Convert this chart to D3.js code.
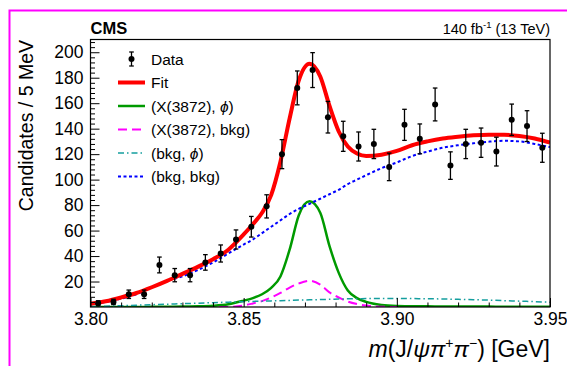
<!DOCTYPE html>
<html><head><meta charset="utf-8">
<script src="https://cdn.jsdelivr.net/npm/d3@7"></script>
<style>
html,body{margin:0;padding:0;background:#fff;}
svg{display:block;font-family:"Liberation Sans",Arial,Helvetica,sans-serif;}
</style></head>
<body><svg id="c" width="567" height="366"></svg>
<script>
// ---------- data ----------
const binCenters = [3.8025,3.8075,3.8125,3.8175,3.8225,3.8275,3.8325,3.8375,3.8425,3.8475,
  3.8525,3.8575,3.8625,3.8675,3.8725,3.8775,3.8825,3.8875,3.8925,3.8975,
  3.9025,3.9075,3.9125,3.9175,3.9225,3.9275,3.9325,3.9375,3.9425,3.9475];
const counts = [3,4,10,10,33,25,25,35,42,53,63,79,120,172,186,149,134,126,128,110,
  143,132,159,111,128,129,122,147,142,125];
const errors = [1.9,2.1,3.3,3.3,6.2,5.2,5.2,6.1,6.7,7.5,8.1,9.1,11.4,13.3,13.7,12.4,11.8,11.4,11.5,10.8,
  12.2,11.7,12.9,10.8,11.5,11.5,11.3,12.3,12.1,11.4];

const massGrid = [3.800,3.805,3.810,3.815,3.820,3.825,3.830,3.835,3.840,3.845,3.850,3.853,3.856,3.859,
  3.862,3.865,3.868,3.8715,3.875,3.878,3.881,3.884,3.887,3.890,3.895,3.900,3.905,3.910,3.915,3.920,
  3.925,3.930,3.935,3.940,3.945,3.950];
const fitTotal = [2.5,4.5,7.5,11,15.5,20.5,26,31.5,37.5,45,57,65,74,88,
  114,148,178,191,181,158,138,126,120.5,118.5,119.5,122.5,127,130,132.3,133.7,
  134.8,135.3,135.2,134.3,132.3,129];
const xPhi = [0.05,0.05,0.05,0.05,0.1,0.15,0.3,0.5,1.0,2.2,5,7,10,15,
  24,45,72,83,74,48,27,13,7,4,1.6,0.8,0.6,0.5,0.4,0.35,
  0.3,0.3,0.25,0.2,0.2,0.2];
const xBkgMass = [3.842,3.845,3.850,3.853,3.856,3.859,3.862,3.865,3.868,3.8715,3.875,3.878,3.881,3.884,3.887,3.890,3.895,3.900];
const xBkg = [0,0.1,1.2,2.8,4.6,7.5,11,15.2,18.5,20.6,17.5,11.5,7.5,4.2,2.3,1.2,0.2,0];
const bkgPhi = [0.2,0.6,1.0,1.4,1.8,2.2,2.6,3.0,3.4,3.8,4.2,4.4,4.6,4.8,
  5.0,5.2,5.4,5.6,5.8,6.0,6.2,6.4,6.5,6.6,6.7,6.7,6.6,6.5,6.3,6.0,
  5.7,5.4,5.0,4.6,4.2,3.8];
const bkgBkg = [2,4,6.5,10,15.5,20.5,24,29,35,42,49,53,58,63,
  68,73,77,81,85,88.5,92,96.5,100,103.5,109,113.5,118.5,122,125,127,
  128.5,129.8,130.5,130,128,125.5];

const xTickLabels = ["3.80","3.85","3.90","3.95"];
const xMajor = [3.80,3.85,3.90,3.95];
const xMinor = [3.81,3.82,3.83,3.84,3.86,3.87,3.88,3.89,3.91,3.92,3.93,3.94];
const yMajor = [20,40,60,80,100,120,140,160,180,200];
const yMinor = [4,8,12,16,24,28,32,36,44,48,52,56,64,68,72,76,84,88,92,96,104,108,112,116,
  124,128,132,136,144,148,152,156,164,168,172,176,184,188,192,196,204,208];

const legendItems = [
  {key:"data", label:["Data"]},
  {key:"fit", label:["Fit"]},
  {key:"sphi", label:["(X(3872), ", ["ϕ","i"], ")"]},
  {key:"sbkg", label:["(X(3872), bkg)"]},
  {key:"bphi", label:["(bkg, ", ["ϕ","i"], ")"]},
  {key:"bbkg", label:["(bkg, bkg)"]}
];
const styles = {
  fit:  {stroke:"#ff0000", width:4,   dash:null},
  sphi: {stroke:"#009a00", width:2.5, dash:null},
  sbkg: {stroke:"#ff00ff", width:2,   dash:"9,5"},
  bphi: {stroke:"#149e9e", width:1.5, dash:"6,3,1.5,3"},
  bbkg: {stroke:"#0000ff", width:2,   dash:"3,2.5"}
};

// ---------- layout ----------
const L = 90.5, R = 550, T = 39.5, B = 307;
const svg = d3.select("#c");
const x = d3.scaleLinear().domain([3.80,3.95]).range([L,R]);
const y = d3.scaleLinear().domain([0,210]).range([B,T]);

// magenta outer frame
svg.append("rect").attr("x",9.5).attr("y",10.5).attr("width",700).attr("height",500)
  .attr("fill","none").attr("stroke","#ff00ff").attr("stroke-width",2);

svg.append("defs").append("clipPath").attr("id","clip")
  .append("rect").attr("x",L).attr("y",T).attr("width",R-L).attr("height",B-T);

const plot = svg.append("g").attr("clip-path","url(#clip)");
function curve(xs, ys, st){
  const line = d3.line().x((d,i)=>x(xs[i])).y(d=>y(d)).curve(d3.curveMonotoneX);
  plot.append("path").datum(ys).attr("d",line).attr("fill","none")
    .attr("stroke",st.stroke).attr("stroke-width",st.width)
    .attr("stroke-dasharray",st.dash);
}
curve(massGrid, xPhi, styles.sphi);
curve(xBkgMass, xBkg, styles.sbkg);
curve(massGrid, bkgPhi, styles.bphi);
curve(massGrid, bkgBkg, styles.bbkg);
curve(massGrid, fitTotal, styles.fit);

// data points
const pts = svg.append("g");
binCenters.forEach((m,i)=>{
  const cx = x(m), v = counts[i], e = errors[i];
  pts.append("line").attr("x1",cx).attr("x2",cx).attr("y1",y(v-e)).attr("y2",y(v+e))
    .attr("stroke","#000").attr("stroke-width",1.3);
  [v-e, v+e].forEach(t=>pts.append("line").attr("x1",cx-2.3).attr("x2",cx+2.3)
    .attr("y1",y(t)).attr("y2",y(t)).attr("stroke","#000").attr("stroke-width",1.3));
  pts.append("circle").attr("cx",cx).attr("cy",y(v)).attr("r",3).attr("fill","#000");
});

// frame
svg.append("rect").attr("x",L).attr("y",T).attr("width",R-L).attr("height",B-T)
  .attr("fill","none").attr("stroke","#000").attr("stroke-width",1.2);

// axes
const fs = 17.5;
const gx = svg.append("g").attr("transform",`translate(0,${B})`)
  .call(d3.axisBottom(x).tickValues(xMajor).tickSize(-9).tickPadding(6)
    .tickFormat((d,i)=>xTickLabels[i]));
const gxm = svg.append("g").attr("transform",`translate(0,${B})`)
  .call(d3.axisBottom(x).tickValues(xMinor).tickSize(-4.5).tickFormat(""));
const gy = svg.append("g").attr("transform",`translate(${L},0)`)
  .call(d3.axisLeft(y).tickValues(yMajor).tickSize(-9).tickPadding(7));
const gym = svg.append("g").attr("transform",`translate(${L},0)`)
  .call(d3.axisLeft(y).tickValues(yMinor).tickSize(-4.5).tickFormat(""));
[gx,gxm,gy,gym].forEach(g=>{
  g.select(".domain").remove();
  g.selectAll(".tick line").attr("stroke","#000").attr("stroke-width",1);
  g.selectAll("text").attr("font-size",fs).attr("fill","#000")
    .attr("font-family","Liberation Sans, Arial, sans-serif");
});

// axis titles
svg.append("text").attr("transform",`translate(33,40) rotate(-90)`)
  .attr("text-anchor","end").attr("font-size",19.5).attr("fill","#000")
  .text("Candidates / 5 MeV");

const xt = svg.append("text").attr("x",R).attr("y",357).attr("text-anchor","end")
  .attr("font-size",23).attr("fill","#000");
xt.append("tspan").attr("font-style","italic").text("m");
xt.append("tspan").text("(J/");
xt.append("tspan").attr("font-style","italic").text("ψπ");
xt.append("tspan").attr("font-size",14).attr("dy",-9).text("+");
xt.append("tspan").attr("font-style","italic").attr("dy",9).text("π");
xt.append("tspan").attr("font-size",14).attr("dy",-9).text("−");
xt.append("tspan").attr("dy",9).text(") [GeV]");

// header
svg.append("text").attr("x",L).attr("y",34).attr("font-size",16.5).attr("font-weight","bold")
  .attr("fill","#000").text("CMS");
const lum = svg.append("text").attr("x",R).attr("y",34).attr("text-anchor","end")
  .attr("font-size",14.5).attr("fill","#000");
lum.append("tspan").text("140 fb");
lum.append("tspan").attr("font-size",9.5).attr("dy",-6).text("-1");
lum.append("tspan").attr("dy",6).text(" (13 TeV)");

// legend
const lg = svg.append("g");
const ly0 = 59, ldy = 23.5, lx0 = 118, lx1 = 145, ltx = 151;
legendItems.forEach((it,i)=>{
  const yy = ly0 + i*ldy;
  if(it.key==="data"){
    const cx = (lx0+lx1)/2;
    lg.append("line").attr("x1",cx).attr("x2",cx).attr("y1",yy-7).attr("y2",yy+7)
      .attr("stroke","#000").attr("stroke-width",1.3);
    [yy-7,yy+7].forEach(t=>lg.append("line").attr("x1",cx-2.3).attr("x2",cx+2.3)
      .attr("y1",t).attr("y2",t).attr("stroke","#000").attr("stroke-width",1.3));
    lg.append("circle").attr("cx",cx).attr("cy",yy).attr("r",3).attr("fill","#000");
  } else {
    const st = styles[it.key];
    lg.append("line").attr("x1",lx0).attr("x2",lx1).attr("y1",yy).attr("y2",yy)
      .attr("stroke",st.stroke).attr("stroke-width",st.width).attr("stroke-dasharray",st.dash);
  }
  const t = lg.append("text").attr("x",ltx).attr("y",yy).attr("dy","0.36em")
    .attr("font-size",15.5).attr("fill","#000");
  it.label.forEach(p=>{
    if(Array.isArray(p)) t.append("tspan").attr("font-style","italic").text(p[0]);
    else t.append("tspan").text(p);
  });
});
</script></body></html>
